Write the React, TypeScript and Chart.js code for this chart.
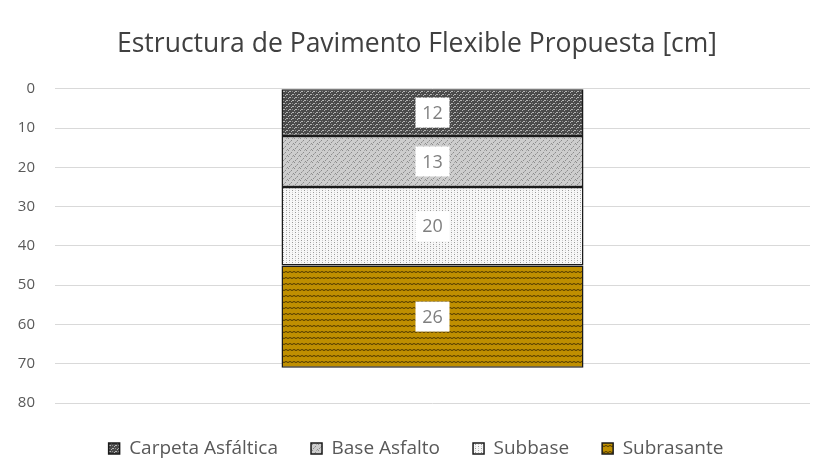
import React, { useEffect, useRef } from "react";
import { Chart, registerables } from "chart.js";

Chart.register(...registerables);

const categories = [""];
const layerNames = ["Carpeta Asfáltica", "Base Asfalto", "Subbase", "Subrasante"];
const carpeta = [12];
const baseAsfalto = [13];
const subbase = [20];
const subrasante = [26];
const yTicks = [0, 10, 20, 30, 40, 50, 60, 70, 80];
const titleText = "Estructura de Pavimento Flexible Propuesta [cm]";

const FONT = "'Open Sans', Lato, sans-serif";

function makePattern(kind: string): CanvasPattern | string {
  const c = document.createElement("canvas");
  const ctx = c.getContext("2d");
  if (!ctx) return "#888";
  if (kind === "carpeta") {
    c.width = 6; c.height = 6;
    ctx.fillStyle = "#4a4a4a"; ctx.fillRect(0, 0, 6, 6);
    ctx.fillStyle = "#b5b5b5";
    ctx.fillRect(1, 1, 2, 1); ctx.fillRect(0, 2, 1, 1);
    ctx.fillRect(4, 4, 2, 1); ctx.fillRect(3, 5, 1, 1);
    ctx.fillStyle = "#8a8a8a";
    ctx.fillRect(4, 1, 1, 1); ctx.fillRect(1, 4, 1, 1);
  } else if (kind === "base") {
    c.width = 6; c.height = 6;
    ctx.fillStyle = "#cdcdcd"; ctx.fillRect(0, 0, 6, 6);
    ctx.fillStyle = "#8c8c8c";
    ctx.fillRect(0, 0, 1, 1); ctx.fillRect(3, 2, 1, 1);
    ctx.fillRect(1, 4, 1, 1); ctx.fillRect(5, 5, 1, 1);
    ctx.fillStyle = "#a8a8a8";
    ctx.fillRect(4, 0, 1, 1); ctx.fillRect(2, 3, 1, 1);
  } else if (kind === "subbase") {
    c.width = 6; c.height = 4;
    ctx.fillStyle = "#f7f7f7"; ctx.fillRect(0, 0, 6, 4);
    ctx.fillStyle = "#9a9a9a";
    ctx.fillRect(1, 0, 1, 1); ctx.fillRect(4, 2, 1, 1);
    ctx.fillStyle = "#cfcfcf";
    ctx.fillRect(1, 2, 1, 1); ctx.fillRect(4, 0, 1, 1);
  } else {
    c.width = 8; c.height = 6;
    ctx.fillStyle = "#bf8f00"; ctx.fillRect(0, 0, 8, 6);
    ctx.strokeStyle = "#4a3500"; ctx.lineWidth = 1;
    ctx.beginPath();
    ctx.moveTo(0, 2.5); ctx.lineTo(2, 1.5); ctx.lineTo(4, 2.5); ctx.lineTo(6, 1.5); ctx.lineTo(8, 2.5);
    ctx.stroke();
  }
  const p = ctx.createPattern(c, "repeat");
  return p || "#888";
}

const labelPlugin = {
  id: "boxLabels",
  afterDatasetsDraw(chart: any) {
    const ctx = chart.ctx;
    ctx.save();
    chart.data.datasets.forEach((ds: any, i: number) => {
      const meta = chart.getDatasetMeta(i);
      meta.data.forEach((el: any, j: number) => {
        const v = ds.data[j];
        const cx = el.x;
        const cy = (el.y + el.base) / 2;
        ctx.fillStyle = "#ffffff";
        ctx.fillRect(cx - 17, cy - 15, 34, 30);
        ctx.fillStyle = "#7f7f7f";
        ctx.font = "18px " + FONT;
        ctx.textAlign = "center";
        ctx.textBaseline = "middle";
        ctx.fillText(String(v), cx, cy + 1);
      });
    });
    ctx.restore();
  },
};

const blockShift = {
  id: "blockShift",
  afterLayout(chart: any) {
    const lg = chart.legend;
    if (lg) {
      lg.left += 11;
      lg.right += 11;
      lg.top += 3;
      lg.bottom += 3;
    }
    const tb = chart.titleBlock;
    if (tb) {
      tb.left += 12;
      tb.right += 12;
    }
  },
};

export default function App() {
  const ref = useRef<HTMLCanvasElement | null>(null);
  useEffect(() => {
    if (!ref.current) return;
    const series = [carpeta, baseAsfalto, subbase, subrasante];
    const kinds = ["carpeta", "base", "subbase", "subrasante"];
    const chart = new Chart(ref.current, {
      type: "bar",
      data: {
        labels: categories,
        datasets: series.map((d, i) => ({
          label: layerNames[i],
          data: d,
          backgroundColor: makePattern(kinds[i]) as any,
          borderColor: "#1a1a1a",
          borderWidth: 1.5,
          borderSkipped: false,
          barPercentage: 0.8,
          categoryPercentage: 0.5,
        })),
      },
      options: {
        animation: false,
        responsive: false,
        events: [],
        layout: { padding: { left: 0, right: 6, top: 0, bottom: 11 } },
        plugins: {
          title: {
            display: true,
            text: titleText,
            color: "#404040",
            font: { family: FONT, size: 26.5, weight: "normal" },
            padding: { top: 29, bottom: 28 },
          },
          legend: {
            position: "bottom",
            labels: {
              color: "#595959",
              font: { family: FONT, size: 19 },
              boxWidth: 11,
              boxHeight: 11,
              padding: 33,
            },
          },
          tooltip: { enabled: false },
        },
        scales: {
          x: { stacked: true, display: false },
          y: {
            stacked: true,
            reverse: true,
            min: 0,
            max: 80,
            afterFit: (s: any) => { s.width = 55; },
            afterBuildTicks: (s: any) => { s.ticks = yTicks.map((v) => ({ value: v })); },
            ticks: {
              color: "#595959",
              font: { family: FONT, size: 15 },
              padding: 20,
            },
            grid: { color: "#d9d9d9", drawTicks: false },
            border: { display: false },
          },
        },
      },
      plugins: [labelPlugin, blockShift],
    });
    return () => chart.destroy();
  }, []);
  return (
    <div style={{ position: "fixed", left: 0, top: 0, width: 816, height: 476, background: "#fff" }}>
      <canvas ref={ref} width={816} height={476} />
    </div>
  );
}
